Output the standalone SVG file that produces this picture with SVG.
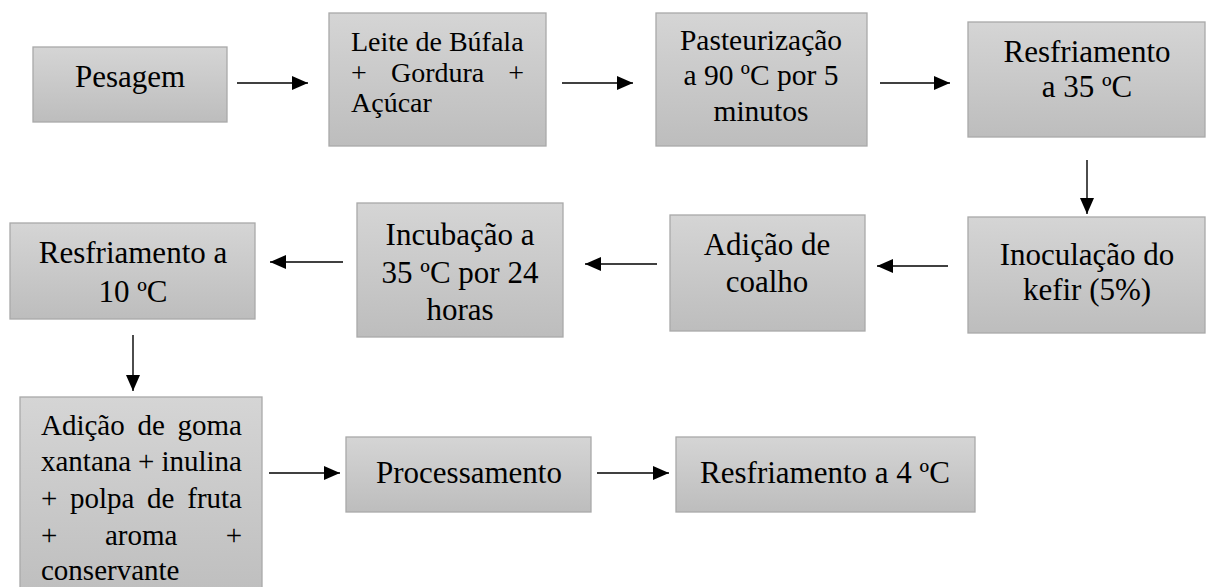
<svg xmlns="http://www.w3.org/2000/svg" width="1208" height="587" viewBox="0 0 1208 587">
<style>
.box{fill:url(#g);stroke:#a9a9a9;stroke-width:1.3}
.t{font-family:"Liberation Serif","Times New Roman",serif;font-size:31px;fill:#000}
.c{text-anchor:middle}
.conn line{stroke:#000;stroke-width:1.4;marker-end:url(#ah)}
</style>
<defs>
<linearGradient id="g" x1="0" y1="0" x2="0" y2="1">
<stop offset="0" stop-color="#d5d5d5"/>
<stop offset="1" stop-color="#bdbdbd"/>
</linearGradient>
<marker id="ah" markerUnits="userSpaceOnUse" markerWidth="16" markerHeight="14" viewBox="0 0 16 14" refX="16" refY="7" orient="auto">
<path d="M0,0 L16,7 L0,14 z" fill="#000"/>
</marker>
</defs>
<rect width="1208" height="587" fill="#fff"/>
<g id="n1"><rect class="box" x="33" y="47" width="194" height="75"/><text class="t c" x="130" y="87">Pesagem</text></g>
<g id="n2"><rect class="box" x="329" y="13" width="217" height="133"/>
<text class="t" style="font-size:28px" x="351" y="51">Leite de Búfala</text>
<text class="t" style="font-size:28px" y="82"><tspan x="351">+</tspan><tspan x="391">Gordura</tspan><tspan x="524" text-anchor="end">+</tspan></text>
<text class="t" style="font-size:28px" x="351" y="112">Açúcar</text></g>
<g id="n3"><rect class="box" x="656" y="13" width="211" height="133"/>
<text class="t c" style="font-size:29.5px" x="761" y="50">Pasteurização</text>
<text class="t c" style="font-size:29.5px" x="761" y="85">a 90 ºC por 5</text>
<text class="t c" style="font-size:29.5px" x="761" y="121">minutos</text></g>
<g id="n4"><rect class="box" x="968" y="22" width="237" height="115"/>
<text class="t c" x="1087" y="62">Resfriamento</text>
<text class="t c" x="1087" y="97">a 35 ºC</text></g>
<g id="n5"><rect class="box" x="968" y="217" width="237" height="116"/>
<text class="t c" x="1087" y="265">Inoculação do</text>
<text class="t c" x="1087" y="300">kefir (5%)</text></g>
<g id="n6"><rect class="box" x="670" y="215" width="195" height="116"/>
<text class="t c" x="767" y="255">Adição de</text>
<text class="t c" x="767" y="292">coalho</text></g>
<g id="n7"><rect class="box" x="357" y="203" width="206" height="134"/>
<text class="t c" x="460" y="245">Incubação a</text>
<text class="t c" x="460" y="283">35 ºC por 24</text>
<text class="t c" x="460" y="320">horas</text></g>
<g id="n8"><rect class="box" x="10" y="223" width="245" height="96"/>
<text class="t c" x="133" y="263">Resfriamento a</text>
<text class="t c" x="133" y="302">10 ºC</text></g>
<g id="n9"><rect class="box" x="20" y="397" width="242" height="210"/>
<text class="t" style="font-size:29px" y="435"><tspan x="41">Adição</tspan><tspan x="137.5">de</tspan><tspan x="242" text-anchor="end">goma</tspan></text>
<text class="t" style="font-size:29px" y="471"><tspan x="41">xantana</tspan><tspan x="138">+</tspan><tspan x="242" text-anchor="end">inulina</tspan></text>
<text class="t" style="font-size:29px" y="508"><tspan x="41">+</tspan><tspan x="70">polpa</tspan><tspan x="147">de</tspan><tspan x="242" text-anchor="end">fruta</tspan></text>
<text class="t" style="font-size:29px" y="545"><tspan x="41">+</tspan><tspan x="105">aroma</tspan><tspan x="242" text-anchor="end">+</tspan></text>
<text class="t" style="font-size:29px" x="41" y="580">conservante</text></g>
<g id="n10"><rect class="box" x="346" y="437" width="245" height="75"/>
<text class="t c" x="469" y="483">Processamento</text></g>
<g id="n11"><rect class="box" x="676" y="437" width="299" height="75"/>
<text class="t c" x="825" y="483">Resfriamento a 4 ºC</text></g>
<g id="connectors" class="conn">
<line x1="237" y1="83" x2="308" y2="83"/>
<line x1="562" y1="83" x2="633" y2="83"/>
<line x1="880" y1="83" x2="950" y2="83"/>
<line x1="1087" y1="160" x2="1087" y2="214"/>
<line x1="948" y1="266" x2="877" y2="266"/>
<line x1="657" y1="264" x2="585" y2="264"/>
<line x1="343" y1="262" x2="270" y2="262"/>
<line x1="133" y1="335" x2="133" y2="391"/>
<line x1="269" y1="473" x2="340" y2="473"/>
<line x1="597" y1="473" x2="669" y2="473"/>
</g>
</svg>
